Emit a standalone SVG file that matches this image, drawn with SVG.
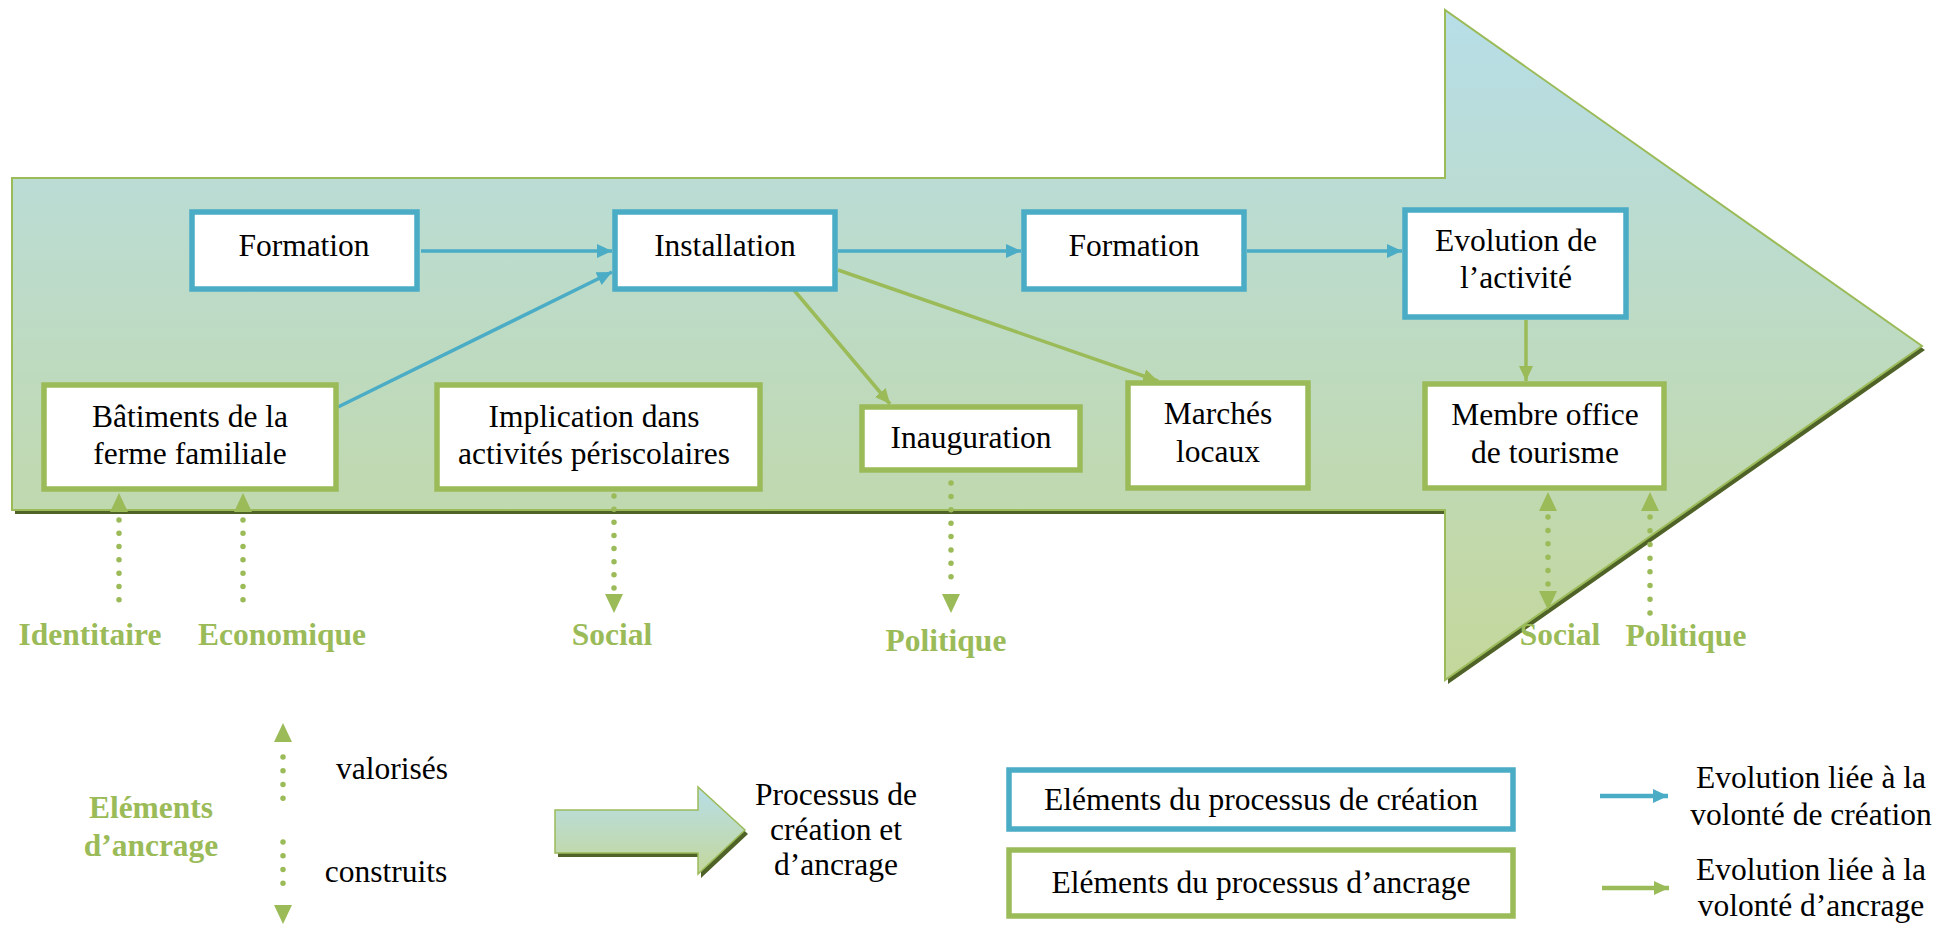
<svg xmlns="http://www.w3.org/2000/svg" width="1948" height="925" viewBox="0 0 1948 925">
<defs>
<linearGradient id="gBig" gradientUnits="userSpaceOnUse" x1="0" y1="10" x2="0" y2="680">
<stop offset="0" stop-color="#B7DEE8"/>
<stop offset="1" stop-color="#C4D79B"/>
</linearGradient>
<linearGradient id="gSmall" gradientUnits="userSpaceOnUse" x1="0" y1="787" x2="0" y2="874">
<stop offset="0" stop-color="#B7DEE8"/>
<stop offset="1" stop-color="#C4D79B"/>
</linearGradient>
<marker id="mb" markerUnits="userSpaceOnUse" viewBox="0 0 16 16" markerWidth="16" markerHeight="16" refX="15" refY="8" orient="auto">
<path d="M0,1 L15,8 L0,15 Z" fill="#4BACC6"/>
</marker>
<marker id="mg" markerUnits="userSpaceOnUse" viewBox="0 0 16 16" markerWidth="16" markerHeight="16" refX="15" refY="8" orient="auto">
<path d="M0,1 L15,8 L0,15 Z" fill="#9BBB59"/>
</marker>
</defs>
<style>
.t{font-family:"Liberation Serif","Times New Roman",serif;font-size:31.5px;fill:#000;text-anchor:middle}
.b{font-family:"Liberation Serif","Times New Roman",serif;font-size:31.5px;font-weight:bold;fill:#9BBB59;text-anchor:middle}
.nb{fill:#fff;stroke:#4BACC6;stroke-width:5.5}
.ng{fill:#fff;stroke:#9BBB59;stroke-width:5.5}
.cb{stroke:#4BACC6;stroke-width:3.5;fill:none;marker-end:url(#mb)}
.cg{stroke:#9BBB59;stroke-width:3.5;fill:none;marker-end:url(#mg)}
.dot{stroke:#9BBB59;stroke-width:5.5;stroke-linecap:round;fill:none}
.ah{fill:#9BBB59}
</style>
<rect width="1948" height="925" fill="#fff"/>
<g id="bigArrow">
<path d="M12,178 L1445,178 L1445,10 L1922,346 L1445,680 L1445,510 L12,510 Z" fill="#4F6228" transform="translate(3,4)"/>
<path d="M12,178 L1445,178 L1445,10 L1922,346 L1445,680 L1445,510 L12,510 Z" fill="url(#gBig)" stroke="#9BBB59" stroke-width="2"/>
</g>
<g id="connectors">
<path class="cb" d="M421,251 L612,251"/>
<path class="cb" d="M338,407 L612,272"/>
<path class="cb" d="M838,251 L1021,251"/>
<path class="cb" d="M1247,251 L1402,251"/>
<path class="cg" d="M793,289 L890,404"/>
<path class="cg" d="M838,270 L1158,381"/>
<path class="cg" d="M1526,320 L1526,381"/>
</g>
<g id="n-formation1"><rect class="nb" x="192" y="212" width="225" height="77"/><text class="t" x="304" y="256">Formation</text></g>
<g id="n-installation"><rect class="nb" x="615" y="212" width="220" height="77"/><text class="t" x="725" y="256">Installation</text></g>
<g id="n-formation2"><rect class="nb" x="1024" y="212" width="220" height="77"/><text class="t" x="1134" y="256">Formation</text></g>
<g id="n-evolution"><rect class="nb" x="1405" y="210" width="221" height="107"/><text class="t" x="1516" y="251">Evolution de</text><text class="t" x="1516" y="288">l’activité</text></g>
<g id="n-batiments"><rect class="ng" x="44" y="385" width="292" height="104"/><text class="t" x="190" y="427">Bâtiments de la</text><text class="t" x="190" y="464">ferme familiale</text></g>
<g id="n-implication"><rect class="ng" x="437" y="385" width="323" height="104"/><text class="t" x="594" y="427">Implication dans</text><text class="t" x="594" y="464">activités périscolaires</text></g>
<g id="n-inauguration"><rect class="ng" x="862" y="407" width="218" height="63"/><text class="t" x="971" y="448">Inauguration</text></g>
<g id="n-marches"><rect class="ng" x="1128" y="383" width="180" height="105"/><text class="t" x="1218" y="424">Marchés</text><text class="t" x="1218" y="462">locaux</text></g>
<g id="n-membre"><rect class="ng" x="1425" y="384" width="239" height="104"/><text class="t" x="1545" y="425">Membre office</text><text class="t" x="1545" y="463">de tourisme</text></g>
<g id="anchors">
<polygon class="ah" points="119,493 110,512 128,512"/><path class="dot" d="M119,520 L119,613" stroke-dasharray="0 13.29"/>
<polygon class="ah" points="243,493 234,512 252,512"/><path class="dot" d="M243,520 L243,613" stroke-dasharray="0 13.29"/>
<path class="dot" d="M614,496 L614,588" stroke-dasharray="0 13.14"/><polygon class="ah" points="605,594 623,594 614,613"/>
<path class="dot" d="M951,483 L951,590" stroke-dasharray="0 13.375"/><polygon class="ah" points="942,594 960,594 951,613"/>
<polygon class="ah" points="1548,492 1539,511 1557,511"/><path class="dot" d="M1548,517 L1548,584" stroke-dasharray="0 13.4"/><polygon class="ah" points="1539,591 1557,591 1548,610"/>
<polygon class="ah" points="1650,492 1641,511 1659,511"/><path class="dot" d="M1650,517 L1650,613" stroke-dasharray="0 13.71"/>
<text class="b" x="90" y="645">Identitaire</text>
<text class="b" x="282" y="645">Economique</text>
<text class="b" x="612" y="645">Social</text>
<text class="b" x="946" y="651">Politique</text>
<text class="b" x="1560" y="645">Social</text>
<text class="b" x="1686" y="646">Politique</text>
</g>
<g id="legend">
<text class="b" x="151" y="818">Eléments</text>
<text class="b" x="151" y="856">d’ancrage</text>
<polygon class="ah" points="283,723 274,742 292,742"/>
<path class="dot" d="M283,757 L283,812" stroke-dasharray="0 13.75"/>
<path class="dot" d="M283,842 L283,897" stroke-dasharray="0 13.75"/>
<polygon class="ah" points="274,905 292,905 283,924"/>
<text class="t" x="392" y="779">valorisés</text>
<text class="t" x="386" y="882">construits</text>
<path d="M555,810 L698,810 L698,787 L745,830 L698,874 L698,853 L555,853 Z" fill="#4F6228" transform="translate(3,4)"/>
<path d="M555,810 L698,810 L698,787 L745,830 L698,874 L698,853 L555,853 Z" fill="url(#gSmall)" stroke="#9BBB59" stroke-width="1.5"/>
<text class="t" x="836" y="805">Processus de</text>
<text class="t" x="836" y="840">création et</text>
<text class="t" x="836" y="875">d’ancrage</text>
<rect class="nb" x="1009" y="770" width="504" height="59"/>
<text class="t" x="1261" y="810">Eléments du processus de création</text>
<rect class="ng" x="1009" y="850" width="504" height="66"/>
<text class="t" x="1261" y="893">Eléments du processus d’ancrage</text>
<path d="M1600,796 L1668,796" stroke="#4BACC6" stroke-width="4.5" marker-end="url(#mb)"/>
<path d="M1602,888 L1669,888" stroke="#9BBB59" stroke-width="4.5" marker-end="url(#mg)"/>
<text class="t" x="1811" y="788">Evolution liée à la</text>
<text class="t" x="1811" y="825">volonté de création</text>
<text class="t" x="1811" y="880">Evolution liée à la</text>
<text class="t" x="1811" y="916">volonté d’ancrage</text>
</g>
</svg>
